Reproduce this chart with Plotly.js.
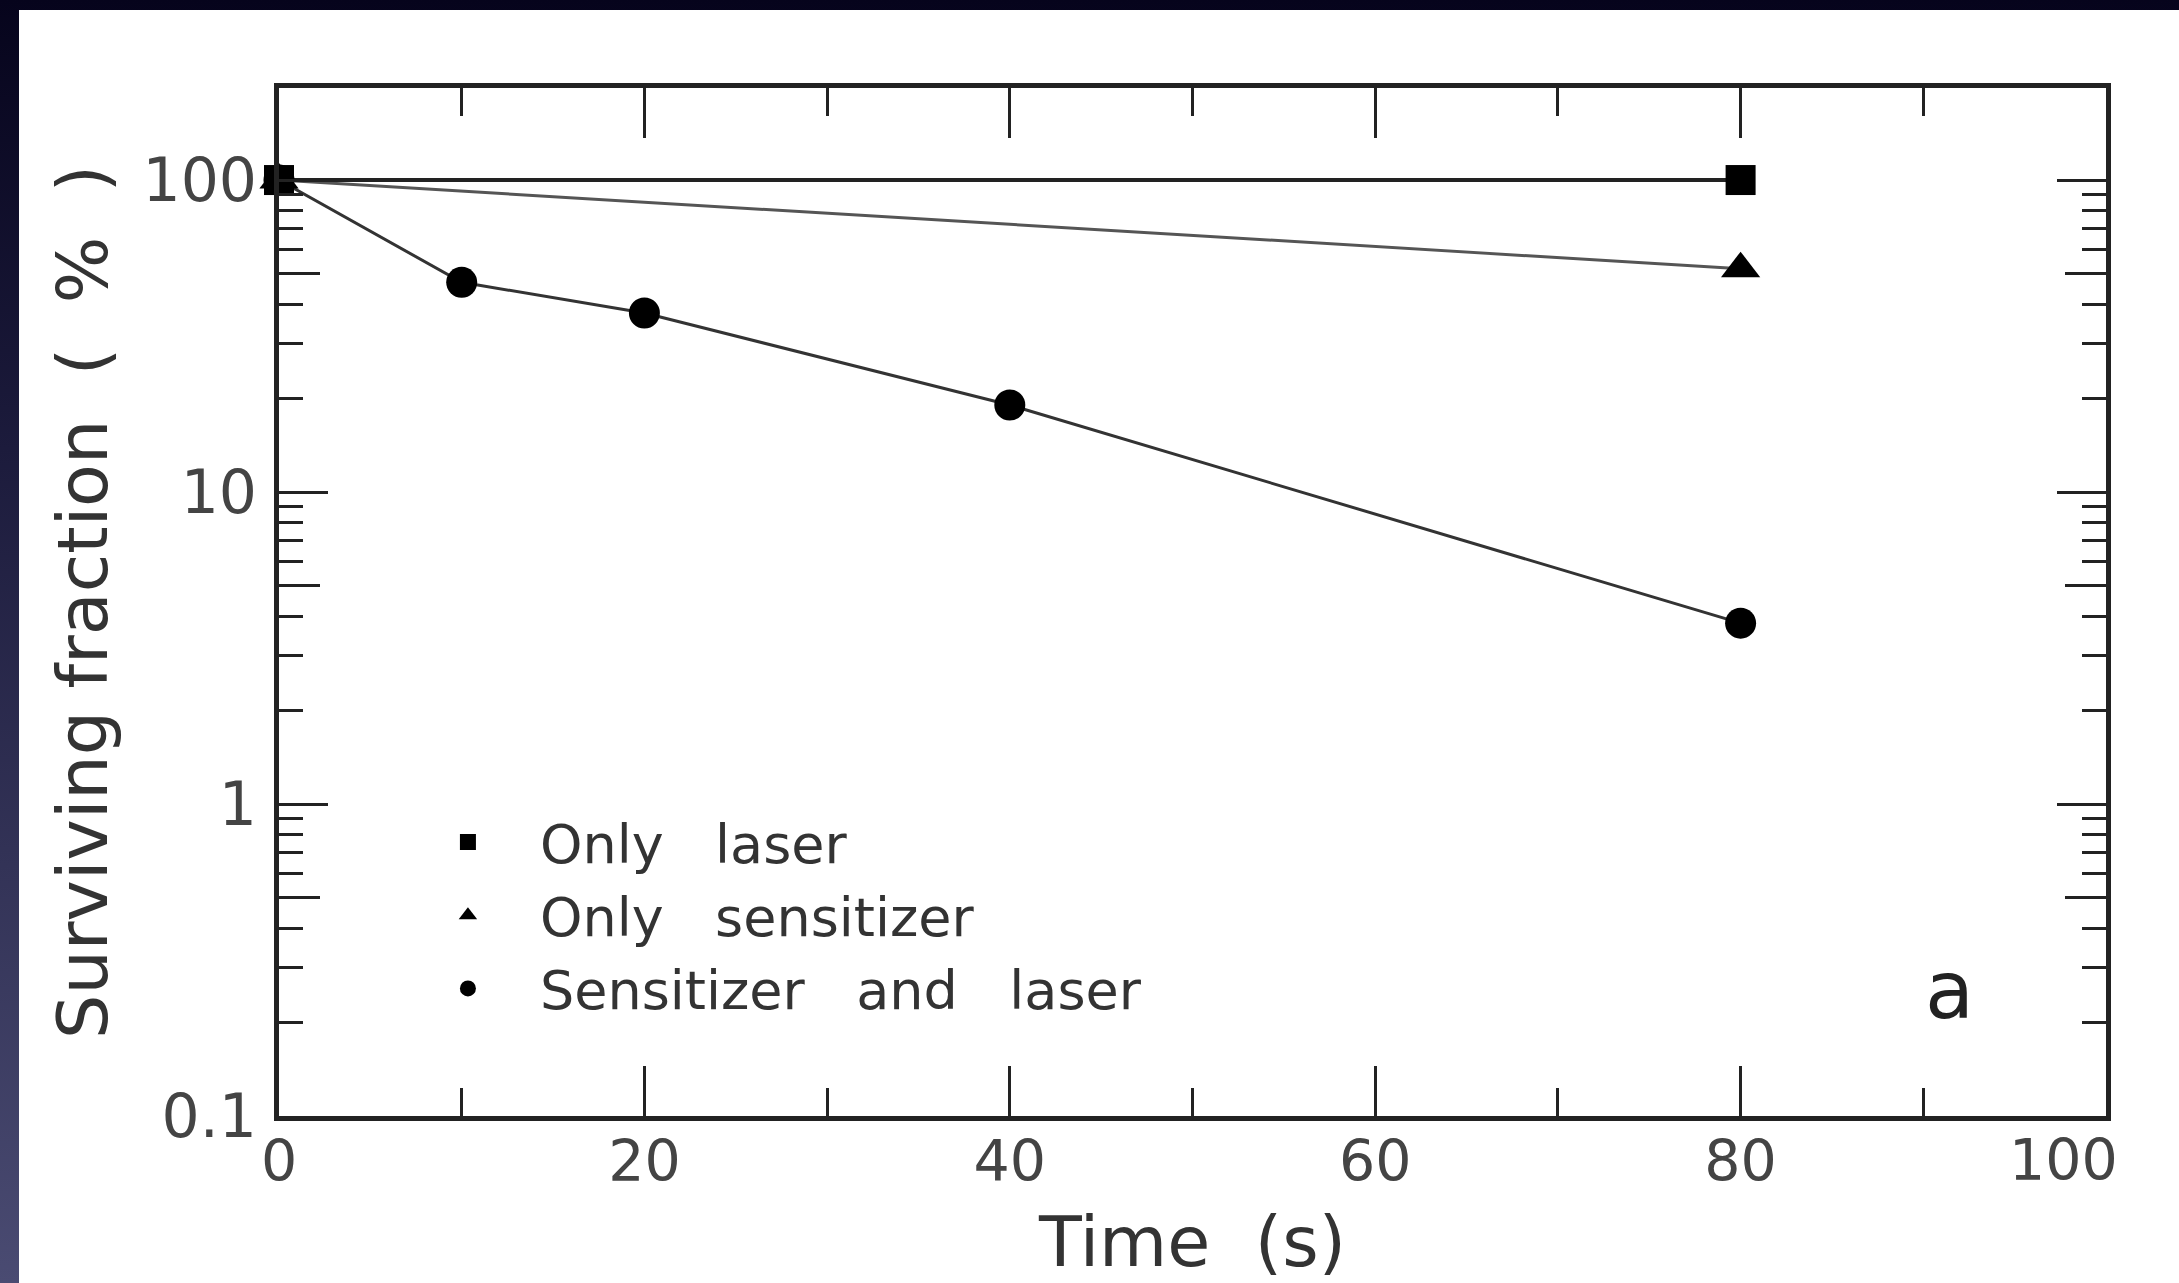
<!DOCTYPE html>
<html>
<head>
<meta charset="utf-8">
<script src="https://cdn.plot.ly/plotly-3.0.1.min.js"></script>
<style>
  html, body { margin: 0; padding: 0; }
  body {
    width: 2179px; height: 1283px; overflow: hidden;
    background: linear-gradient(to bottom, #06041c 0%, #1c1b3c 35%, #4a4b72 100%);
    position: relative;
  }
  #chart { position: absolute; left: 19px; top: 10px; width: 2160px; height: 1273px; background: #fff; }
</style>
</head>
<body>
<div id="chart"></div>
<script>
// ---- data ----
const seriesNames = ['Only laser', 'Only sensitizer', 'Sensitizer and laser'];
const laserTime = [0, 80];
const laserValue = [100, 100];
const sensitizerTime = [0, 80];
const sensitizerValue = [100, 52];
const comboTime = [0, 10, 20, 40, 80];
const comboValue = [100, 47, 37.5, 19, 3.8];

const xTickVals = [0, 20, 40, 60, 80, 100];
const xTickText = ['0', '20', '40', '60', '80', '100'];
const xMinorVals = [10, 30, 50, 70, 90];
const yTickVals = [0.1, 1, 10, 100];
const yTickText = ['0.1', '1', '10', '100'];
const yMinorShort = [0.2, 0.3, 0.4, 0.6, 0.7, 0.8, 0.9, 2, 3, 4, 6, 7, 8, 9, 20, 30, 40, 60, 70, 80, 90];
const yMinorFive = [0.5, 5, 50];

const FONT = 'DejaVu Sans, sans-serif';
const AX = '#222';
const nb = '\u00A0';

const lineTraces = [
  {x: comboTime, y: comboValue, color: '#333', w: 3},
  {x: sensitizerTime, y: sensitizerValue, color: '#555', w: 3},
  {x: laserTime, y: laserValue, color: '#222', w: 4}
].map(s => ({
  type: 'scatter', mode: 'lines', x: s.x, y: s.y,
  line: {color: s.color, width: s.w}, showlegend: false, hoverinfo: 'skip', cliponaxis: false
}));

const markerTraces = [
  {name: seriesNames[0], x: laserTime, y: laserValue, symbol: 'square', size: 30},
  {name: seriesNames[1], x: sensitizerTime, y: sensitizerValue, symbol: 'triangle-up', size: 34},
  {name: seriesNames[2], x: comboTime, y: comboValue, symbol: 'circle', size: 31}
].map(s => ({
  type: 'scatter', mode: 'markers', name: s.name.split(' ').join(nb + nb + ' '),
  x: s.x, y: s.y, cliponaxis: false,
  marker: {symbol: s.symbol, size: s.size, color: '#000'}
}));

// invisible helper trace so the extra tick axis is drawn
const helper = {type: 'scatter', mode: 'markers', x: [], y: [], yaxis: 'y2', showlegend: false, hoverinfo: 'skip'};

const data = [...lineTraces, ...markerTraces, helper];

// the last x label sits left of its tick in the reference: draw it as a right-anchored annotation
const lastIdx = xTickText.length - 1;
const xTickLabels = xTickText.map((t, i) => i === lastIdx ? '' : t);

const layout = {
  width: 2160, height: 1273,
  margin: {l: 260, r: 73, t: 78, b: 167},
  paper_bgcolor: '#fff', plot_bgcolor: '#fff',
  showlegend: true,
  font: {family: FONT, color: '#333'},
  xaxis: {
    range: [0, 100], tickmode: 'array', tickvals: xTickVals, ticktext: xTickLabels,
    ticks: 'inside', ticklen: 50, tickwidth: 3, tickcolor: AX,
    minor: {tickmode: 'array', tickvals: xMinorVals, ticks: 'inside', ticklen: 28, tickwidth: 3, tickcolor: AX, showgrid: false},
    mirror: 'ticks', showline: true, linewidth: 5, linecolor: AX,
    showgrid: false, zeroline: false,
    ticklabelstandoff: -8,
    tickfont: {family: FONT, size: 57, color: '#444'},
    title: {text: 'Time' + nb + nb + '(s)', font: {family: FONT, size: 70, color: '#333'}, standoff: 26}
  },
  yaxis: {
    type: 'log', range: [-1, 2.295], tickmode: 'array', tickvals: yTickVals, ticktext: yTickText,
    ticks: 'inside', ticklen: 49, tickwidth: 3, tickcolor: AX,
    minor: {tickmode: 'array', tickvals: yMinorShort, ticks: 'inside', ticklen: 24, tickwidth: 3, tickcolor: AX, showgrid: false},
    mirror: 'ticks', showline: true, linewidth: 5, linecolor: AX,
    showgrid: false, zeroline: false,
    ticklabelstandoff: 5,
    tickfont: {family: FONT, size: 60, color: '#444'},
    title: {text: 'Surviving fraction' + nb + ' (' + nb + ' %' + nb + ' )', font: {family: FONT, size: 70, color: '#333'}, standoff: 13}
  },
  yaxis2: {
    type: 'log', range: [-1, 2.295], overlaying: 'y', anchor: 'x', side: 'left',
    tickmode: 'array', tickvals: yMinorFive, showticklabels: false,
    ticks: 'inside', ticklen: 41, tickwidth: 3, tickcolor: AX,
    mirror: 'ticks', showline: false, showgrid: false, zeroline: false
  },
  legend: {
    x: 0.064, y: 0.307, xanchor: 'left', yanchor: 'top',
    bgcolor: 'rgba(0,0,0,0)', borderwidth: 0,
    font: {family: FONT, size: 54, color: '#333'},
    itemwidth: 134, traceorder: 'normal'
  },
  annotations: [
    {
      xref: 'paper', yref: 'paper', x: 0.9146, y: 0.1216, xanchor: 'center', yanchor: 'middle',
      text: 'a', showarrow: false, font: {family: FONT, size: 80, color: '#222'}
    },
    {
      xref: 'x', yref: 'paper', x: xTickVals[lastIdx], y: -0.0428, xanchor: 'right', yanchor: 'middle',
      xshift: 14, text: xTickText[lastIdx], showarrow: false, font: {family: FONT, size: 57, color: '#444'}
    }
  ]
};

Plotly.newPlot('chart', data, layout, {displayModeBar: false, staticPlot: true});
</script>
</body>
</html>
